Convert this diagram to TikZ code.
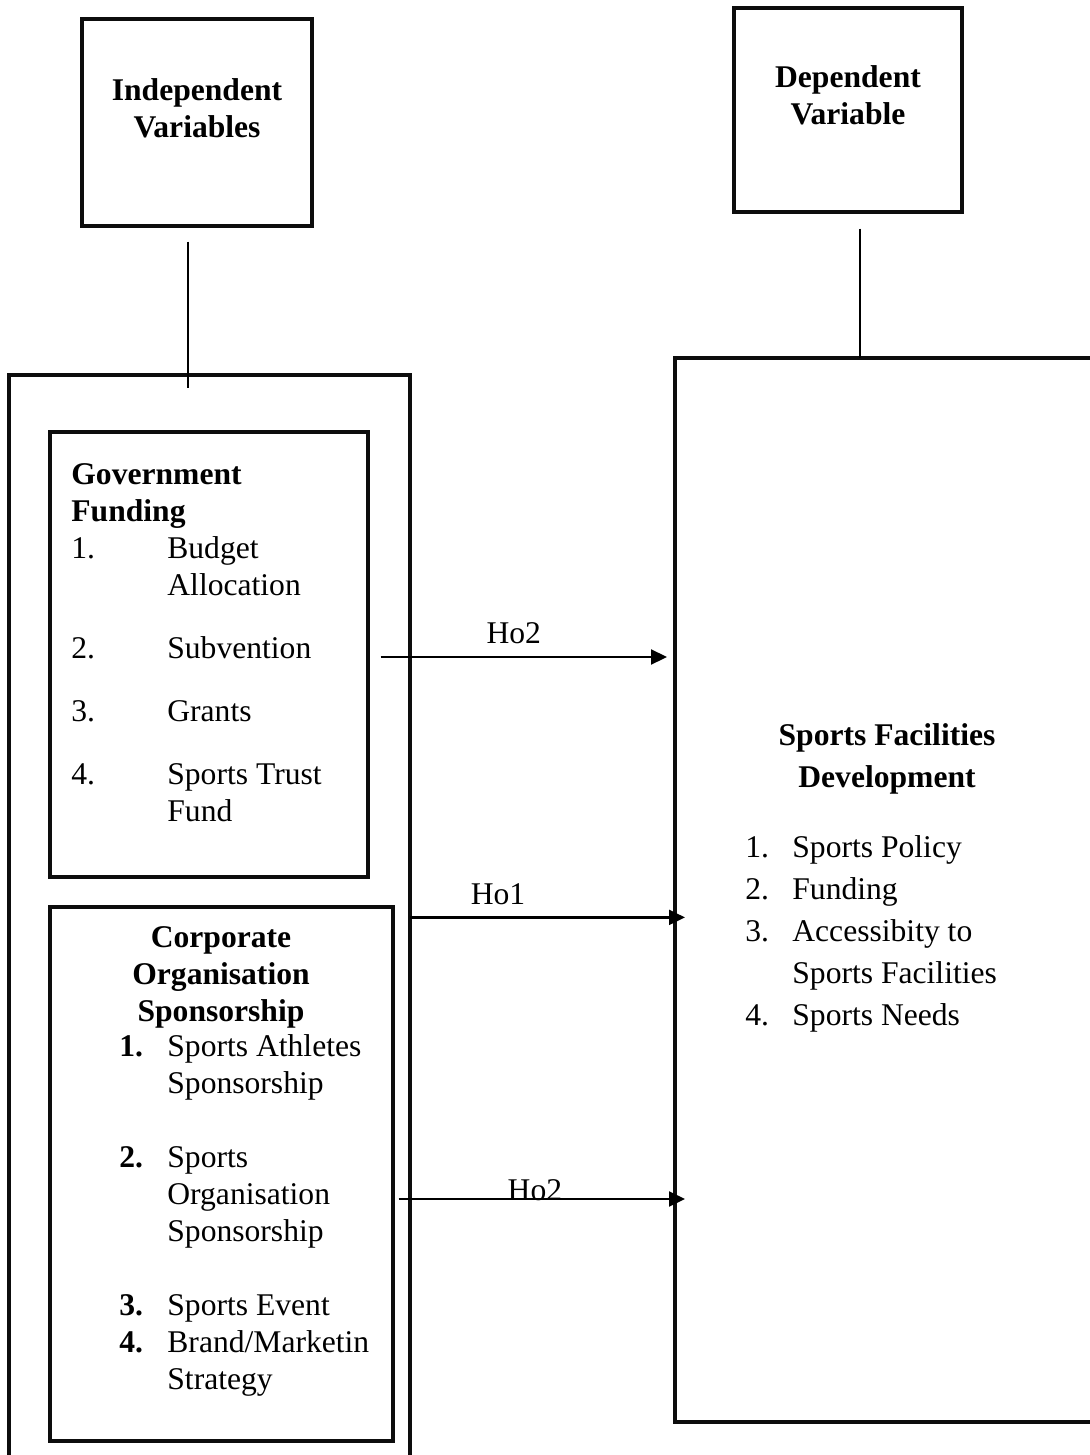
\documentclass[tikz,border=0pt]{standalone}
\usepackage{fontspec}
\setmainfont{Liberation Serif}
\usetikzlibrary{arrows.meta,calc,positioning}
\tikzset{
  >={Triangle[length=8pt,width=7.5pt]},
  frame/.style={draw=black!95, line width=1.6pt, inner sep=0pt},
  wire/.style={black, line width=1.1pt},
  link/.style={wire, ->},
  head/.style={font=\fontsize{15.8pt}{18.5pt}\selectfont\bfseries, align=center, anchor=base, inner sep=0pt},
  body/.style={font=\fontsize{15.8pt}{18.5pt}\selectfont, align=left, anchor=base west, inner sep=0pt},
  hyp/.style={font=\fontsize{15.8pt}{18.5pt}\selectfont, anchor=base, inner sep=0pt},
}
\newcommand{\numb}[2]{\makebox[#1][l]{#2}}

\begin{document}
\begin{tikzpicture}[x=0.5pt, y=-0.5pt]
\useasboundingbox (0,0) rectangle (1089,1455);
% variable titles (text nodes sit on the baseline of their last line)
\node[frame, minimum width=115pt, minimum height=103.5pt] (indep) at (197,122.5) {};
\node[head] (indeptxt) at (197,138) {Independent\\Variables};
\node[frame, minimum width=114pt, minimum height=102pt] (dep) at (848,110) {};
\node[head] (deptxt) at (848,125) {Dependent\\Variable};
% open frames
\coordinate (outerNW) at (9,375);
\coordinate (outerNE) at (410,375);
\coordinate (devNW) at (675,358);
\coordinate (devSW) at (675,1422);
\draw[frame] (9,1470) -- (outerNW) -- (outerNE) -- (410,1470);
\draw[frame] (1100,358) -- (devNW) -- (devSW) -- (1100,1422);
% government funding
\node[frame, minimum width=159pt, minimum height=222.5pt] (gov) at (209,654.5) {};
\node[body] (govtxt) at (71,821) {\textbf{Government}\\\textbf{Funding}\\
  \numb{48pt}{1.}Budget\\\hspace*{48pt}Allocation\\[13pt]
  \numb{48pt}{2.}Subvention\\[13pt]
  \numb{48pt}{3.}Grants\\[13pt]
  \numb{48pt}{4.}Sports Trust\\\hspace*{48pt}Fund};
% corporate sponsorship
\node[frame, minimum width=171.5pt, minimum height=267pt] (corp) at (221.5,1174) {};
\node[head] (corptxt) at (221,1021) {Corporate\\Organisation\\Sponsorship};
\node[body] (corplist) at (119,1389) {\numb{24pt}{\textbf{1.}}Sports Athletes\\\hspace*{24pt}Sponsorship\\[18.5pt]
  \numb{24pt}{\textbf{2.}}Sports\\\hspace*{24pt}Organisation\\\hspace*{24pt}Sponsorship\\[18.5pt]
  \numb{24pt}{\textbf{3.}}Sports Event\\
  \numb{24pt}{\textbf{4.}}Brand/Marketin\\\hspace*{24pt}Strategy};
% development
\node[head, font=\fontsize{15.8pt}{21pt}\selectfont\bfseries] (devtxt) at (887,787) {Sports Facilities\\Development};
\node[body, font=\fontsize{15.8pt}{21pt}\selectfont] (devlist) at (745,1025) {\numb{23.5pt}{1.}Sports Policy\\
  \numb{23.5pt}{2.}Funding\\
  \numb{23.5pt}{3.}Accessibity to\\\hspace*{23.5pt}Sports Facilities\\
  \numb{23.5pt}{4.}Sports Needs};
% connectors
\draw[wire] ([shift={(-4.5pt,-7pt)}]indep.south) -- ([shift={(-4.5pt,-6.5pt)}]indep.south |- outerNW);
\draw[wire] ([shift={(6pt,-7.5pt)}]dep.south) -- ([xshift=6pt]dep.south |- devNW);
\draw[link] ([shift={(5.5pt,-1.25pt)}]gov.east) -- node[hyp, pos=.465, yshift=7pt] {Ho2} ([shift={(-4pt,-1.25pt)}]gov.east -| devNW);
\draw[link] ([yshift=-6pt]corp.north -| outerNE) -- node[hyp, pos=.32, yshift=6.5pt] {Ho1} ([shift={(5pt,-6pt)}]corp.north -| devNW);
\draw[link] ([shift={(2pt,-12.5pt)}]corp.east) -- node[hyp, pos=.476, yshift=-0.5pt] {Ho2} ([shift={(5pt,-12.5pt)}]corp.east -| devNW);
\end{tikzpicture}
\end{document}
